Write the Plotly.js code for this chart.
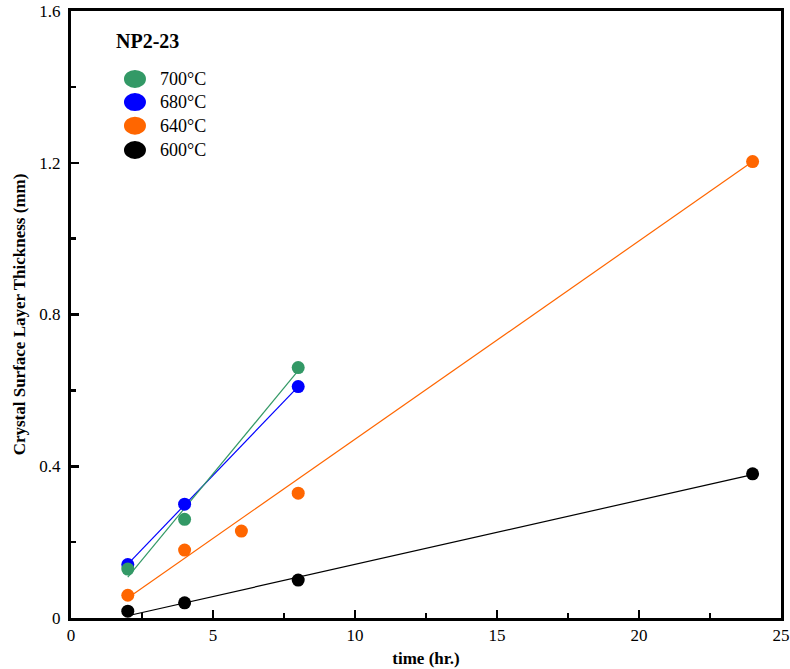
<!DOCTYPE html>
<html>
<head>
<meta charset="utf-8">
<script src="https://cdn.plot.ly/plotly-3.0.1.min.js"></script>
<style>html,body{margin:0;padding:0;background:#fff;}#chart{width:790px;height:669px;}</style>
</head>
<body>
<div id="chart"></div>
<script>
// Measured data (time in hr., thickness in mm)
const series = ["700°C", "680°C", "640°C", "600°C"];
const colors = ["#339966", "#0000ff", "#ff6600", "#000000"];

const t700 = [2, 4, 8];
const y700 = [0.129, 0.260, 0.660];
const t680 = [2, 4, 8];
const y680 = [0.141, 0.300, 0.610];
const t640 = [2, 4, 6, 8, 24];
const y640 = [0.060, 0.179, 0.229, 0.329, 1.203];
const t600 = [2, 4, 8, 24];
const y600 = [0.018, 0.040, 0.100, 0.380];

// Fit-line endpoints
const fit700x = [2, 8],  fit700y = [0.108, 0.652];
const fit680x = [2, 8],  fit680y = [0.142, 0.610];
const fit640x = [2, 24], fit640y = [0.053, 1.203];
const fit600x = [2, 24], fit600y = [0.006, 0.378];

const xTicks = [0, 5, 10, 15, 20, 25];
const yTicks = [0, 0.4, 0.8, 1.2, 1.6];
const sampleLabel = "NP2-23";

const serif = "Liberation Serif, Times New Roman, serif";

function fitTrace(x, y, c) {
  return {x: x, y: y, mode: "lines", type: "scatter", showlegend: false,
          line: {color: c, width: 1.2}, hoverinfo: "skip"};
}
function ptTrace(x, y, c, name) {
  return {x: x, y: y, mode: "markers", type: "scatter", name: name, showlegend: false,
          marker: {color: c, size: 13, line: {width: 0}}};
}

const traces = [
  fitTrace(fit600x, fit600y, colors[3]),
  fitTrace(fit640x, fit640y, colors[2]),
  fitTrace(fit680x, fit680y, colors[1]),
  fitTrace(fit700x, fit700y, colors[0]),
  ptTrace(t600, y600, colors[3], series[3]),
  ptTrace(t640, y640, colors[2], series[2]),
  ptTrace(t680, y680, colors[1], series[1]),
  ptTrace(t700, y700, colors[0], series[0])
];

// Legend drawn as shapes + annotations (paper coordinates)
const legendY = [0.888, 0.850, 0.811, 0.771];
const shapes = [];
const annotations = [{
  text: "<b>" + sampleLabel + "</b>", xref: "paper", yref: "paper",
  x: 0.061, y: 0.951, xanchor: "left", yanchor: "middle", showarrow: false,
  font: {family: serif, size: 20, color: "#000"}
}];
series.forEach((s, i) => {
  shapes.push({type: "circle", xref: "paper", yref: "paper",
    xsizemode: "pixel", ysizemode: "pixel", xanchor: 0.0901, yanchor: legendY[i],
    x0: -11, x1: 11, y0: -9, y1: 9,
    fillcolor: colors[i], line: {width: 0}});
  annotations.push({text: s, xref: "paper", yref: "paper", x: 0.122, y: legendY[i],
    xanchor: "left", yanchor: "middle", showarrow: false,
    font: {family: serif, size: 18, color: "#000"}});
});

const axisCommon = {
  showline: true, linecolor: "#000", linewidth: 3, mirror: true,
  showgrid: false, zeroline: false,
  ticks: "inside", ticklen: 8, tickwidth: 2.5, tickcolor: "#000",
  tickfont: {family: serif, size: 17, color: "#000"}
};

const layout = {
  width: 790, height: 669,
  margin: {l: 71, r: 9, t: 11, b: 51},
  paper_bgcolor: "#fff", plot_bgcolor: "#fff",
  showlegend: false,
  xaxis: Object.assign({}, axisCommon, {
    range: [0, 25], tickvals: xTicks, ticktext: xTicks.map(String),
    minor: {ticks: "inside", ticklen: 5, tickwidth: 2.5, tickcolor: "#000", dtick: 2.5, tick0: 0},
    title: {text: "<b>time (hr.)</b>", font: {family: serif, size: 17, color: "#000"}, standoff: 8}
  }),
  yaxis: Object.assign({}, axisCommon, {
    range: [0, 1.6], tickvals: yTicks, ticktext: yTicks.map(String),
    minor: {ticks: "inside", ticklen: 5, tickwidth: 2.5, tickcolor: "#000", dtick: 0.2, tick0: 0},
    ticklabelstandoff: 4,
    title: {text: "<b>Crystal Surface Layer Thickness (mm)</b>", font: {family: serif, size: 17, color: "#000"}, standoff: 10}
  }),
  shapes: shapes,
  annotations: annotations
};

Plotly.newPlot("chart", traces, layout, {displayModeBar: false, staticPlot: true});
</script>
</body>
</html>
